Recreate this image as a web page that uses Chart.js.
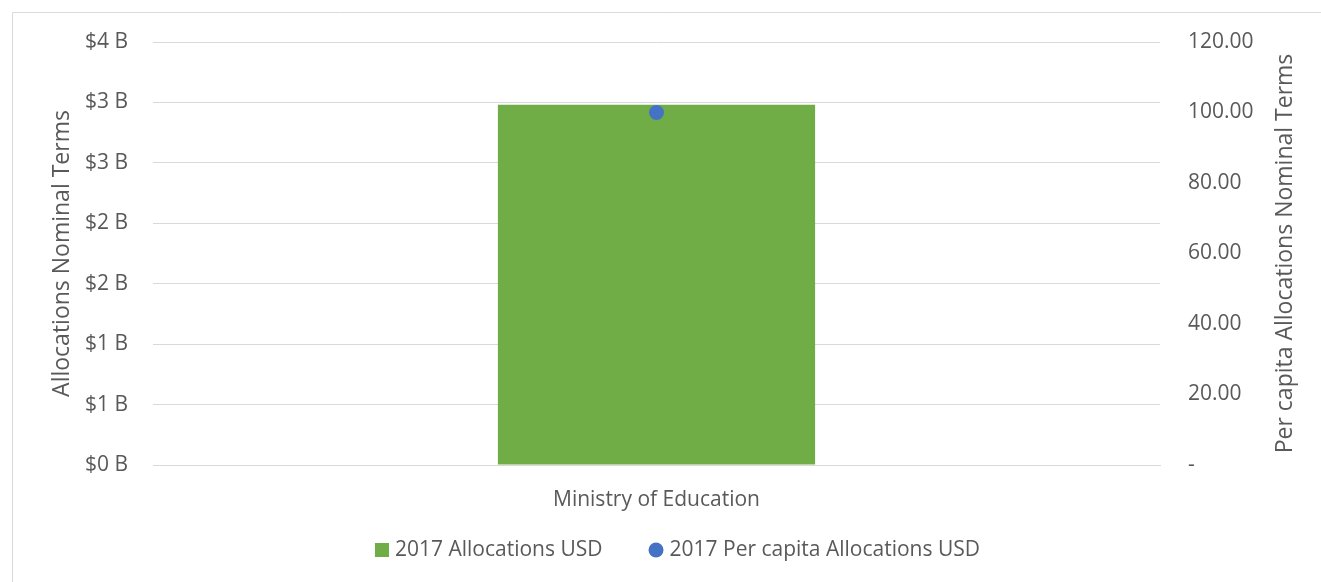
<!DOCTYPE html>
<html>
<head>
<meta charset="utf-8">
<script src="https://cdn.jsdelivr.net/npm/chart.js@4.4.0/dist/chart.umd.min.js"></script>
<style>
  html, body { margin: 0; padding: 0; background: #ffffff; }
  #wrap { width: 1321px; height: 582px; position: relative; }
</style>
</head>
<body>
<div id="wrap"><canvas id="c" width="1321" height="582"></canvas></div>
<script>
// ---- data ----
const categories = ['Ministry of Education'];
const allocationsUSD = [2.98e9];
const perCapitaUSD = [100];
const leftTickLabels = ['$0 B', '$1 B', '$1 B', '$2 B', '$2 B', '$3 B', '$3 B', '$4 B'];
const rightTickLabels = ['-', '20.00', '40.00', '60.00', '80.00', '100.00', '120.00'];
const seriesNames = ['2017 Allocations USD', '2017 Per capita Allocations USD'];
const leftTitle = 'Allocations Nominal Terms';
const rightTitle = 'Per capita Allocations Nominal Terms';

const GREEN = '#70AD47';
const BLUE = '#4472C4';
const TEXT = '#595959';
const GRID = '#D9D9D9';
const FONT = '"Open Sans", "DejaVu Sans", sans-serif';

const framePlugin = {
  id: 'frame',
  beforeDraw(chart) {
    const ctx = chart.ctx;
    ctx.save();
    ctx.fillStyle = '#ffffff';
    ctx.fillRect(0, 0, chart.width, chart.height);
    ctx.strokeStyle = GRID;
    ctx.lineWidth = 1;
    ctx.beginPath();
    ctx.moveTo(12.5, chart.height);
    ctx.lineTo(12.5, 12.5);
    ctx.lineTo(chart.width, 12.5);
    ctx.stroke();
    ctx.restore();
  },
  afterDraw(chart) {
    const ctx = chart.ctx;
    const s = chart.scales.y1;
    const ca = chart.chartArea;
    // right axis title (reads bottom-to-top, like the left one)
    ctx.save();
    ctx.translate(s.right - 36, (ca.top + ca.bottom) / 2);
    ctx.rotate(-Math.PI / 2);
    ctx.fillStyle = TEXT;
    ctx.font = '23px ' + FONT;
    ctx.textAlign = 'center';
    ctx.textBaseline = 'middle';
    ctx.fillText(rightTitle, 0, 0);
    ctx.restore();

    // legend
    ctx.save();
    ctx.font = '21px ' + FONT;
    ctx.textBaseline = 'middle';
    ctx.textAlign = 'left';
    const ds = chart.data.datasets;
    const mark = [14, 15], gapText = 6, gapItem = 46;
    const widths = ds.map(d => ctx.measureText(d.label).width);
    const total = mark[0] + gapText + widths[0] + gapItem + mark[1] + gapText + widths[1];
    const cy = 550;
    let x = 677.5 - total / 2;
    // item 1: square
    ctx.fillStyle = ds[0].backgroundColor;
    ctx.fillRect(x, cy - mark[0] / 2, mark[0], mark[0]);
    x += mark[0] + gapText;
    ctx.fillStyle = TEXT;
    ctx.fillText(ds[0].label, x, cy);
    x += widths[0] + gapItem;
    // item 2: circle
    ctx.fillStyle = ds[1].pointBackgroundColor;
    ctx.beginPath();
    ctx.arc(x + mark[1] / 2, cy, mark[1] / 2, 0, Math.PI * 2);
    ctx.fill();
    x += mark[1] + gapText;
    ctx.fillStyle = TEXT;
    ctx.fillText(ds[1].label, x, cy);
    ctx.restore();
  }
};

new Chart(document.getElementById('c'), {
  data: {
    labels: categories,
    datasets: [
      {
        type: 'bar',
        label: seriesNames[0],
        data: allocationsUSD,
        backgroundColor: GREEN,
        borderWidth: 0,
        yAxisID: 'y',
        categoryPercentage: 1,
        barPercentage: 0.315,
        order: 2
      },
      {
        type: 'line',
        label: seriesNames[1],
        data: perCapitaUSD,
        showLine: false,
        pointStyle: 'circle',
        pointRadius: 7.5,
        pointHoverRadius: 7.5,
        pointBackgroundColor: BLUE,
        pointBorderWidth: 0,
        borderColor: BLUE,
        backgroundColor: BLUE,
        yAxisID: 'y1',
        order: 1
      }
    ]
  },
  options: {
    responsive: false,
    animation: false,
    devicePixelRatio: 1,
    layout: { padding: { left: 34, right: 0, top: 42, bottom: 53 } },
    plugins: {
      tooltip: { enabled: false },
      legend: { display: false }
    },
    scales: {
      x: {
        grid: { display: false, drawTicks: false },
        border: { display: true, color: GRID },
        ticks: { color: TEXT, font: { family: FONT, size: 21 }, padding: 22 },
        afterFit(s) { s.height = 64; }
      },
      y: {
        position: 'left',
        min: 0, max: 3.5e9,
        ticks: {
          stepSize: 0.5e9,
          color: TEXT,
          font: { family: FONT, size: 21 },
          padding: 25,
          callback: (v, i) => leftTickLabels[i]
        },
        grid: { color: GRID, lineWidth: 1, drawTicks: false },
        border: { display: false },
        title: {
          display: true,
          text: leftTitle,
          color: TEXT,
          font: { family: FONT, size: 23 },
          padding: { top: 15, bottom: 0 }
        },
        afterFit(s) { s.width = 119; }
      },
      y1: {
        position: 'right',
        min: 0, max: 120,
        ticks: {
          stepSize: 20,
          color: TEXT,
          font: { family: FONT, size: 21 },
          padding: 28,
          callback: (v, i) => rightTickLabels[i]
        },
        grid: { display: false, drawTicks: false },
        border: { display: false },
        afterFit(s) { s.width = 161; }
      }
    }
  },
  plugins: [framePlugin]
});
</script>
</body>
</html>
